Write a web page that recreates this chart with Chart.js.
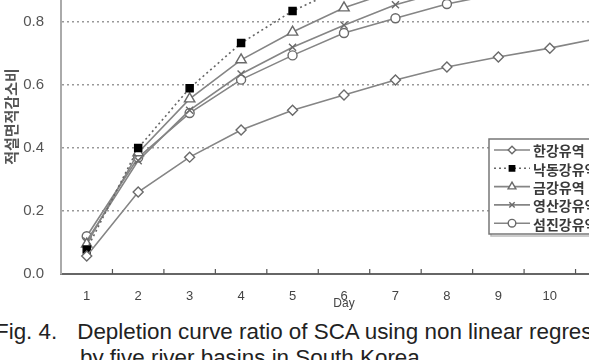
<!DOCTYPE html>
<html>
<head>
<meta charset="utf-8">
<script src="https://cdn.jsdelivr.net/npm/chart.js@4/dist/chart.umd.min.js"></script>
<style>
  html, body { margin: 0; padding: 0; background: #fff; }
  body { width: 589px; height: 360px; overflow: hidden; position: relative; }
  #wrap { position: absolute; left: 0; top: -67px; width: 640px; height: 381px; }
  .cap { position: absolute; font-family: "Liberation Sans", Arial, sans-serif; font-size: 22.4px; color: #222; white-space: nowrap; line-height: 26px; }
  .cap .gap { display: inline-block; width: 20px; }
</style>
</head>
<body>
<div id="wrap"><canvas id="c"></canvas></div>
<div class="cap" style="left:-5px; top:319px;">Fig. 4.<span class="gap"></span>Depletion curve ratio of SCA using non linear regression</div>
<div class="cap" style="left:80px; top:345px;">by five river basins in South Korea</div>
<script>
const days = ['1','2','3','4','5','6','7','8','9','10','11'];
const seriesNames = ['한강유역','낙동강유역','금강유역','영산강유역','섬진강유역'];
const hanRiver      = [0.057,0.26,0.371,0.457,0.52,0.568,0.616,0.657,0.689,0.717,0.75];
const nakdongRiver  = [0.078,0.40,0.59,0.733,0.835,0.91,0.955,0.98,0.995,1.0,1.0];
const geumRiver     = [0.095,0.385,0.556,0.68,0.768,0.845,0.9,0.94,0.965,0.98,0.99];
const yeongsanRiver = [0.105,0.36,0.52,0.635,0.72,0.79,0.855,0.9,0.93,0.955,0.97];
const seomjinRiver  = [0.12,0.37,0.511,0.617,0.694,0.765,0.812,0.857,0.89,0.915,0.935];
const yTitle = '적설면적감소비';
const xTitle = 'Day';

const LINE = '#858585';
const MARK = '#6a6a6a';

function ds(label, data, style, opts) {
  return Object.assign({
    label, data,
    borderColor: LINE, borderWidth: 1.6,
    pointStyle: style, pointRadius: 5, pointHoverRadius: 5,
    pointBackgroundColor: '#fff', pointBorderColor: MARK, pointBorderWidth: 1.4,
    tension: 0, fill: false
  }, opts || {});
}

const datasets = [
  ds(seriesNames[0], hanRiver, 'rectRot'),
  ds(seriesNames[1], nakdongRiver, 'rect', { borderDash: [2,3], borderColor: '#666', pointBackgroundColor: '#000', pointBorderColor: '#000', pointRadius: 5 }),
  ds(seriesNames[2], geumRiver, 'triangle', { pointRadius: 6 }),
  ds(seriesNames[3], yeongsanRiver, 'crossRot', { pointRadius: 5 }),
  ds(seriesNames[4], seomjinRiver, 'circle', { pointRadius: 4.5 })
];

function drawMarker(ctx, d, x, y, r) {
  ctx.save();
  ctx.lineWidth = d.pointBorderWidth;
  ctx.strokeStyle = d.pointBorderColor;
  ctx.fillStyle = d.pointBackgroundColor;
  ctx.setLineDash([]);
  if (Chart.helpers && Chart.helpers.drawPoint) {
    Chart.helpers.drawPoint(ctx, { pointStyle: d.pointStyle, radius: r, borderWidth: d.pointBorderWidth, rotation: 0 }, x, y);
  } else {
    ctx.beginPath();
    ctx.arc(x, y, r, 0, Math.PI * 2);
    ctx.fill(); ctx.stroke();
  }
  ctx.restore();
}

const innerTicks = {
  id: 'innerTicks',
  afterDraw(chart) {
    const xs = chart.scales.x;
    const ctx = chart.ctx;
    const bottom = chart.chartArea.bottom;
    ctx.save();
    ctx.strokeStyle = '#555';
    ctx.lineWidth = 1.2;
    for (let i = 0; i < days.length - 1; i++) {
      const px = (xs.getPixelForTick(i) + xs.getPixelForTick(i + 1)) / 2;
      ctx.beginPath();
      ctx.moveTo(px, bottom);
      ctx.lineTo(px, bottom - 5);
      ctx.stroke();
    }
    ctx.restore();
  }
};

const boxLegend = {
  id: 'boxLegend',
  afterDraw(chart) {
    const ctx = chart.ctx;
    const ca = chart.chartArea;
    const left = 489, top = ca.bottom - 135, w = 160, rowH = 18.3, first = top + 11;
    const h = 95;
    ctx.save();
    ctx.strokeStyle = '#bbb';
    ctx.lineWidth = 1.5;
    ctx.strokeRect(left + 2, top + 2, w, h);
    ctx.fillStyle = '#fff';
    ctx.fillRect(left, top, w, h);
    ctx.strokeStyle = '#777';
    ctx.lineWidth = 1.5;
    ctx.strokeRect(left, top, w, h);
    chart.data.datasets.forEach((d, i) => {
      const y = first + i * rowH;
      ctx.save();
      ctx.strokeStyle = d.borderColor;
      ctx.lineWidth = d.borderWidth;
      ctx.setLineDash(d.borderDash || []);
      ctx.beginPath();
      ctx.moveTo(494, y);
      ctx.lineTo(530, y);
      ctx.stroke();
      ctx.restore();
      drawMarker(ctx, d, 512, y, d.pointStyle === 'triangle' ? 4.5 : 3.8);
      ctx.fillStyle = '#3a3a3a';
      ctx.font = 'bold 14px "Noto Sans CJK KR", sans-serif';
      ctx.textBaseline = 'middle';
      ctx.textAlign = 'left';
      ctx.fillText(d.label, 533, y + 1);
    });
    ctx.restore();
  }
};

new Chart(document.getElementById('c'), {
  type: 'line',
  data: { labels: days, datasets },
  plugins: [innerTicks, boxLegend],
  options: {
    responsive: true,
    maintainAspectRatio: false,
    animation: false,
    layout: { padding: { top: 8, right: 13, left: 0, bottom: 0 } },
    plugins: { legend: { display: false }, tooltip: { enabled: false } },
    scales: {
      x: {
        type: 'category',
        offset: true,
        afterFit: (s) => { s.height = 40; },
        grid: { display: false, drawTicks: false },
        border: { display: true, color: '#666', width: 2 },
        ticks: { color: '#444', padding: 15, font: { family: '"Liberation Sans", Arial, sans-serif', size: 13 } },
        title: { display: true, text: xTitle, color: '#444', padding: { top: 0, bottom: 3 }, font: { family: '"Liberation Sans", Arial, sans-serif', size: 12 } }
      },
      y: {
        min: 0, max: 1,
        afterFit: (s) => { s.width = 61; },
        ticks: { stepSize: 0.2, color: '#555', padding: 17, font: { family: '"Liberation Sans", Arial, sans-serif', size: 15 },
                 callback: (v) => Number(v).toFixed(1) },
        grid: { drawTicks: false, lineWidth: 1.5, color: (c) => c.tick && c.tick.value === 0 ? 'rgba(0,0,0,0)' : '#999' },
        border: { display: true, color: '#aaa', width: 2, dash: [2, 3] },
        title: { display: true, text: yTitle, color: '#555', padding: { top: 2, bottom: 0 }, font: { family: '"Noto Sans CJK KR", sans-serif', size: 15, weight: 'bold' } }
      }
    }
  }
});
</script>
</body>
</html>
